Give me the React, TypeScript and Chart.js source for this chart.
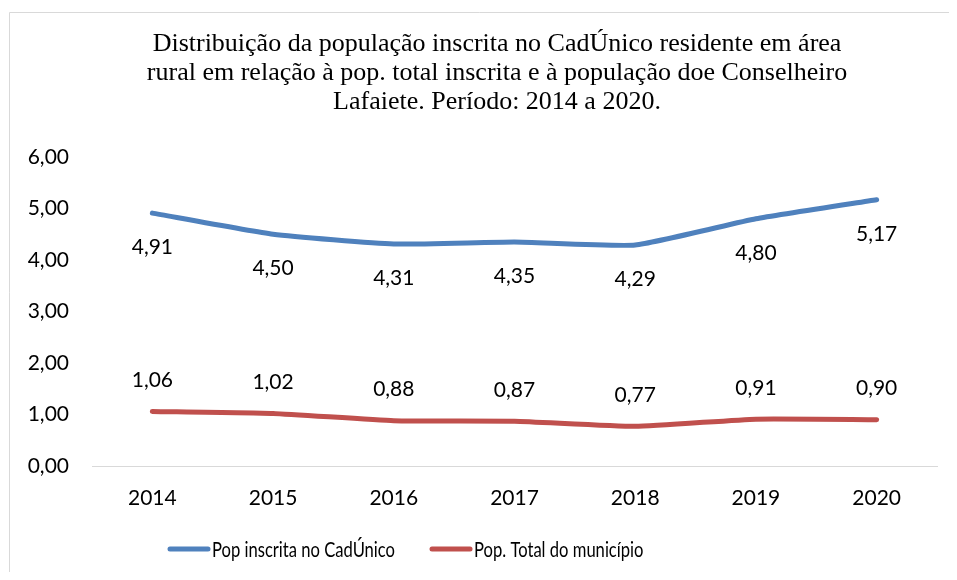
import React, { useEffect, useRef } from "react";
import { Chart, registerables } from "chart.js";

Chart.register(...registerables);

const titleLines = [
  "Distribuição da população inscrita no CadÚnico residente em área",
  "rural em relação à pop. total inscrita e à população doe Conselheiro",
  "Lafaiete. Período: 2014 a 2020.",
];
const years = ["2014", "2015", "2016", "2017", "2018", "2019", "2020"];
const cadUnico = [4.91, 4.5, 4.31, 4.35, 4.29, 4.8, 5.17];
const totalMunicipio = [1.06, 1.02, 0.88, 0.87, 0.77, 0.91, 0.9];
const seriesNames = ["Pop inscrita no CadÚnico", "Pop. Total do município"];
const colors = ["#4f81bd", "#c0504d"];

const fmt = (v: number) => v.toFixed(2).replace(".", ",");
const SANS = "Lato, 'Noto Sans', sans-serif";

const decorPlugin = {
  id: "decor",
  beforeDraw(chart: any) {
    const { ctx, width, height } = chart;
    ctx.save();
    ctx.fillStyle = "#fff";
    ctx.fillRect(0, 0, width, height);
    ctx.strokeStyle = "#d9d9d9";
    ctx.lineWidth = 1;
    ctx.beginPath();
    ctx.moveTo(width, 4.5);
    ctx.lineTo(1.5, 4.5);
    ctx.lineTo(1.5, height);
    ctx.stroke();
    ctx.restore();
  },
  afterDraw(chart: any) {
    const { ctx } = chart;
    ctx.save();
    // title
    ctx.fillStyle = "#000";
    ctx.font = "26px 'Liberation Serif', 'Times New Roman', serif";
    ctx.textAlign = "center";
    ctx.textBaseline = "middle";
    titleLines.forEach((l, i) => ctx.fillText(l, 489, 36 + i * 29));
    // data labels
    ctx.font = `21px ${SANS}`;
    ctx.fillStyle = "#000";
    chart.data.datasets.forEach((ds: any, di: number) => {
      const meta = chart.getDatasetMeta(di);
      meta.data.forEach((pt: any, i: number) => {
        const dy = di === 0 ? 34 : -31;
        ctx.fillText(fmt(ds.data[i]), pt.x, pt.y + dy);
      });
    });
    // legend
    const sx = 0.79;
    let x = 160;
    const y = 541;
    ctx.textAlign = "left";
    ctx.lineCap = "round";
    ctx.font = `21px ${SANS}`;
    chart.data.datasets.forEach((ds: any) => {
      ctx.strokeStyle = ds.borderColor;
      ctx.lineWidth = 5;
      ctx.beginPath();
      ctx.moveTo(x + 2, y);
      ctx.lineTo(x + 40, y);
      ctx.stroke();
      ctx.fillStyle = "#000";
      ctx.save();
      ctx.scale(sx, 1);
      ctx.fillText(ds.label, (x + 44) / sx, y + 1);
      ctx.restore();
      x += 44 + ctx.measureText(ds.label).width * sx + 35;
    });
    ctx.restore();
  },
};

export default function App() {
  const ref = useRef<HTMLCanvasElement>(null);
  useEffect(() => {
    if (!ref.current) return;
    const chart = new Chart(ref.current, {
      type: "line",
      data: {
        labels: years,
        datasets: [
          {
            label: seriesNames[0],
            data: cadUnico,
            borderColor: colors[0],
            backgroundColor: colors[0],
            borderWidth: 5,
            pointRadius: 0,
            tension: 0.15,
            borderCapStyle: "round",
          },
          {
            label: seriesNames[1],
            data: totalMunicipio,
            borderColor: colors[1],
            backgroundColor: colors[1],
            borderWidth: 5,
            pointRadius: 0,
            tension: 0.15,
            borderCapStyle: "round",
          },
        ],
      },
      options: {
        animation: false,
        responsive: false,
        layout: { padding: { top: 149, bottom: 66, right: 12, left: 0 } },
        plugins: { legend: { display: false }, title: { display: false }, tooltip: { enabled: false } },
        scales: {
          x: {
            offset: true,
            grid: { display: false, drawTicks: false },
            border: { display: true, color: "#d9d9d9", width: 1 },
            ticks: { padding: 20, color: "#000", font: { family: SANS, size: 21 } },
            afterFit: (s: any) => {
              s.height = 40;
            },
          },
          y: {
            min: 0,
            max: 6,
            grid: { display: false, drawTicks: false },
            border: { display: false },
            ticks: {
              stepSize: 1,
              padding: 23,
              color: "#000",
              font: { family: SANS, size: 21 },
              callback: (v: any) => fmt(Number(v)),
            },
            afterFit: (s: any) => {
              s.width = 84;
            },
          },
        },
      },
      plugins: [decorPlugin],
    });
    return () => chart.destroy();
  }, []);
  return (
    <div style={{ width: 941, height: 564 }}>
      <canvas ref={ref} width={941} height={564} style={{ display: "block" }} />
    </div>
  );
}
